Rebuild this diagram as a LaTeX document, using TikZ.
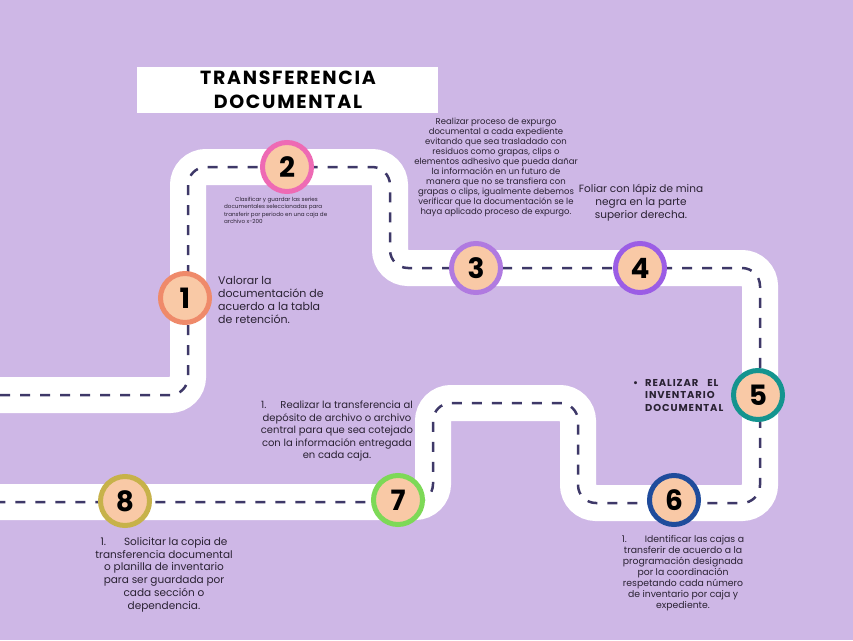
\documentclass[tikz,border=0pt]{standalone}
\usepackage{fontspec}
\setmainfont{Poppins}
\newfontfamily\handfont{Poppins}
\newfontfamily\handwide{Poppins}[LetterSpace=9]
\definecolor{bg}{HTML}{CEB7E6}
\definecolor{peach}{HTML}{F9C9A6}
\definecolor{dashc}{HTML}{3E3868}
\definecolor{txt}{HTML}{2A2233}
\definecolor{c1}{HTML}{EF8A6A}
\definecolor{c2}{HTML}{EE6AB4}
\definecolor{c3}{HTML}{B07AE0}
\definecolor{c4}{HTML}{9B5DE5}
\definecolor{c5}{HTML}{14948F}
\definecolor{c6}{HTML}{1F4C9C}
\definecolor{c7}{HTML}{7DD957}
\definecolor{c8}{HTML}{C7B24A}
\tikzset{
  roadbase/.style={line width=36pt, white, rounded corners=18pt},
  roaddash/.style={line width=2.5pt, dashc, dash pattern=on 10pt off 10pt, rounded corners=18pt},
  stepdot/.style={circle, fill=peach, line width=5pt, minimum size=49pt, inner sep=0pt,
    text=black, font=\handfont\bfseries\fontsize{28}{28}\selectfont},
  bodytext/.style={text=txt, inner sep=0pt, align=center},
}
\begin{document}
\begin{tikzpicture}[x=1pt,y=-1pt]
\fill[bg] (0,0) rectangle (853,640);
\useasboundingbox (0,0) rectangle (853,640);
% title
\node[fill=white, minimum width=301pt, minimum height=46pt, inner sep=0pt] (titlebox) at (287.5,90) {};
\node[text=black, align=center, inner sep=0pt, font=\handwide\bfseries\fontsize{19}{24}\selectfont] (title) at (288,90) {TRANSFERENCIA\\DOCUMENTAL};
% road
\coordinate (r0) at (0,395);
\coordinate (r1) at (188,395);
\coordinate (r2) at (188,167);
\coordinate (r3) at (390,167);
\coordinate (r4) at (390,268);
\coordinate (r5) at (760,268);
\coordinate (r6) at (760,503);
\coordinate (r7) at (578,503);
\coordinate (r8) at (578,403);
\coordinate (r9) at (433,403);
\coordinate (r10) at (433,502);
\coordinate (r11) at (0,502);
\draw[roadbase] (r0) -- (r1) -- (r2) -- (r3) -- (r4) -- (r5) -- (r6) -- (r7) -- (r8) -- (r9) -- (r10) -- (r11);
\draw[roaddash] (r0) -- (r1) -- (r2) -- (r3) -- (r4) -- (r5) -- (r6) -- (r7) -- (r8) -- (r9) -- (r10) -- (r11);
% steps
\node[stepdot, draw=c1] (s1) at (185,298) {1};
\node[stepdot, draw=c2] (s2) at (287,167) {2};
\node[stepdot, draw=c3] (s3) at (476,268) {3};
\node[stepdot, draw=c4] (s4) at (640,268) {4};
\node[stepdot, draw=c5] (s5) at (758,395) {5};
\node[stepdot, draw=c6] (s6) at (674,500) {6};
\node[stepdot, draw=c7] (s7) at (398,500) {7};
\node[stepdot, draw=c8] (s8) at (125,501) {8};
% texts
\node[bodytext, align=left, anchor=north west, font=\fontsize{11}{13}\selectfont] (t1) at (218,276)
  {Valorar la\\documentación de\\acuerdo a la tabla\\de retención.};
\node[bodytext, align=left, anchor=north west, font=\fontsize{5.6}{7.4}\selectfont] (t2) at (224,197)
  {\hspace*{11pt}Clasificar y guardar las series\\documentales seleccionadas para\\transferir por periodo en una caja de\\archivo x-200};
\node[bodytext, anchor=north, font=\fontsize{8.5}{10}\selectfont] (t3) at (496,118)
  {Realizar proceso de expurgo\\documental a cada expediente\\evitando que sea trasladado con\\residuos como grapas, clips o\\elementos adhesivo que pueda dañar\\la información en un futuro de\\manera que no se transfiera con\\grapas o clips, igualmente debemos\\verificar que la documentación se le\\haya aplicado proceso de expurgo.};
\node[bodytext, anchor=north, font=\fontsize{10.5}{13}\selectfont] (t4) at (641,184)
  {Foliar con lápiz de mina\\negra en la parte\\superior derecha.};
\node[bodytext, align=left, anchor=north west, font=\handwide\bfseries\fontsize{10}{12.5}\selectfont] (t5) at (645,379)
  {\makebox[0pt][r]{\textbullet\hspace{7pt}}REALIZAR\hspace{9pt}EL\\INVENTARIO\\DOCUMENTAL};
\node[bodytext, anchor=north, font=\fontsize{10}{12.4}\selectfont] (t7) at (337,401)
  {1.\hspace{14pt}Realizar la transferencia al\\depósito de archivo o archivo\\central para que sea cotejado\\con la información entregada\\en cada caja.};
\node[bodytext, anchor=north, font=\fontsize{10.5}{12.8}\selectfont] (t8) at (164,537)
  {1.\hspace{18pt}Solicitar la copia de\\transferencia documental\\o planilla de inventario\\para ser guardada por\\cada sección o\\dependencia.};
\node[bodytext, anchor=north, font=\fontsize{9.3}{11}\selectfont] (t6) at (683,535)
  {1.\hspace{18pt}Identificar las cajas a\\transferir de acuerdo a la\\programación designada\\por la coordinación\\respetando cada número\\de inventario por caja y\\expediente.};
\end{tikzpicture}
\end{document}
